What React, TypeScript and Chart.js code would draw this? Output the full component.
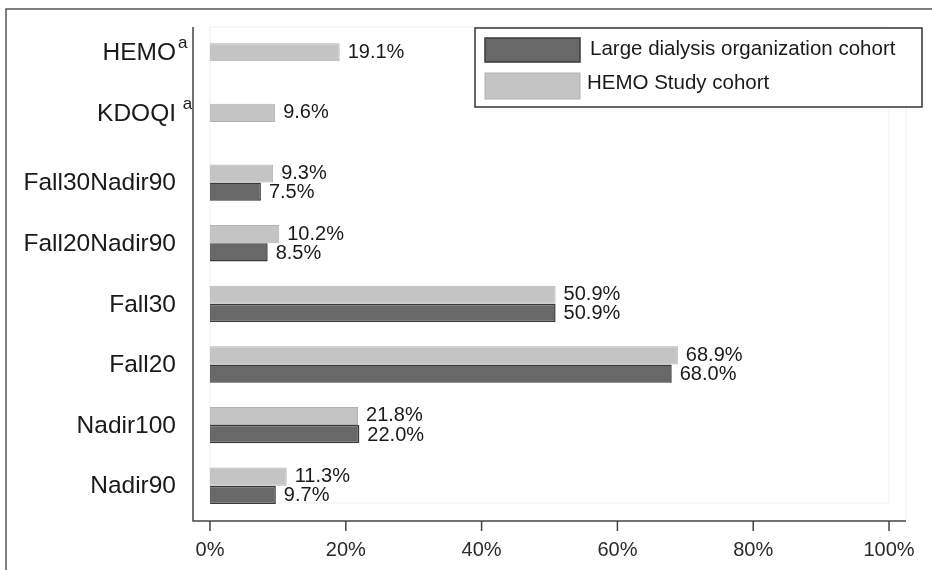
import { useEffect, useRef } from 'react';
import { Chart, registerables } from 'chart.js';

Chart.register(...registerables);

// rows of the chart, top to bottom
const categories = ['HEMO', 'KDOQI', 'Fall30Nadir90', 'Fall20Nadir90', 'Fall30', 'Fall20', 'Nadir100', 'Nadir90'];
const footnotes = ['a', ' a', '', '', '', '', '', ''];

// percentages
const hemoStudy = [19.1, 9.6, 9.3, 10.2, 50.9, 68.9, 21.8, 11.3];
const largeDialysis = [null, null, 7.5, 8.5, 50.9, 68.0, 22.0, 9.7];

const xTicks = [0, 20, 40, 60, 80, 100];

const hemoLabel = 'HEMO Study cohort';
const ldoLabel = 'Large dialysis organization cohort';

const FONT = '"Liberation Sans", Arial, Helvetica, sans-serif';
const LIGHT = '#c4c4c4';
const LIGHT_EDGE = '#b2b2b2';
const DARK = '#686868';
const DARK_EDGE = '#3a3a3a';
const TEXT = '#1a1a1a';

const decorPlugin = {
  id: 'decor',
  beforeDraw(chart: any) {
    const { ctx, chartArea: a, scales } = chart;
    const x = scales.x;
    ctx.save();
    // outer frame (left + top only visible)
    ctx.strokeStyle = '#555';
    ctx.lineWidth = 1.5;
    ctx.beginPath();
    ctx.moveTo(6, chart.height);
    ctx.lineTo(6, 9);
    ctx.lineTo(chart.width, 9);
    ctx.stroke();
    // faint plot region outline
    ctx.strokeStyle = '#efefef';
    ctx.lineWidth = 1;
    const x0 = x.getPixelForValue(0);
    const x1 = x.getPixelForValue(100);
    ctx.strokeRect(x0, a.top - 4, x1 - x0, a.bottom - 13 - (a.top - 4));
    ctx.beginPath();
    ctx.moveTo(a.right, a.top - 4);
    ctx.lineTo(a.right, a.bottom + 5);
    ctx.stroke();
    ctx.restore();
  },
  afterDatasetsDraw(chart: any) {
    const { ctx, chartArea: a, scales } = chart;
    const x = scales.x;
    const axisY = a.bottom + 5;
    ctx.save();

    // axes, ticks and tick labels
    ctx.strokeStyle = '#444';
    ctx.lineWidth = 1.5;
    ctx.beginPath();
    ctx.moveTo(a.left, a.top - 4);
    ctx.lineTo(a.left, axisY);
    ctx.lineTo(a.right, axisY);
    ctx.stroke();
    ctx.fillStyle = '#2a2a2a';
    ctx.font = `20px ${FONT}`;
    ctx.textAlign = 'center';
    ctx.textBaseline = 'middle';
    xTicks.forEach((t) => {
      const px = x.getPixelForValue(t);
      ctx.beginPath();
      ctx.moveTo(px, axisY);
      ctx.lineTo(px, axisY + 10);
      ctx.stroke();
      ctx.fillText(t + '%', px, axisY + 29);
    });

    // value labels
    ctx.fillStyle = TEXT;
    ctx.textAlign = 'left';
    ctx.font = `20px ${FONT}`;
    const series = [hemoStudy, largeDialysis];
    series.forEach((vals, i) => {
      const meta = chart.getDatasetMeta(i);
      vals.forEach((v, j) => {
        if (v == null) return;
        const bar = meta.data[j];
        ctx.fillText(v.toFixed(1) + '%', bar.x + 8, bar.y + (i === 1 ? 1 : 0));
      });
    });

    // category labels, centred on the bars that exist in the row
    categories.forEach((cat, j) => {
      const ys: number[] = [];
      series.forEach((vals, i) => {
        if (vals[j] != null) ys.push(chart.getDatasetMeta(i).data[j].y);
      });
      const y = ys.reduce((s, v) => s + v, 0) / ys.length;
      const right = a.left - 17;
      ctx.textAlign = 'right';
      ctx.font = `24.5px ${FONT}`;
      ctx.fillText(cat, right, y + 1);
      if (footnotes[j]) {
        ctx.textAlign = 'left';
        ctx.font = `17px ${FONT}`;
        ctx.fillText(footnotes[j], right + 2, y - 9);
      }
    });

    // legend box
    const lx = 475;
    const ly = 28;
    const lw = chart.width - 10 - lx;
    const lh = 79;
    ctx.fillStyle = '#fff';
    ctx.fillRect(lx, ly, lw, lh);
    ctx.strokeStyle = '#333';
    ctx.lineWidth = 1.5;
    ctx.strokeRect(lx, ly, lw, lh);

    ctx.fillStyle = DARK;
    ctx.fillRect(lx + 10, ly + 10, 95, 24);
    ctx.strokeStyle = DARK_EDGE;
    ctx.strokeRect(lx + 10, ly + 10, 95, 24);
    ctx.fillStyle = LIGHT;
    ctx.fillRect(lx + 10, ly + 45, 95, 26);
    ctx.strokeStyle = LIGHT_EDGE;
    ctx.lineWidth = 1;
    ctx.strokeRect(lx + 10, ly + 45, 95, 26);

    ctx.fillStyle = TEXT;
    ctx.font = `20.5px ${FONT}`;
    ctx.textAlign = 'left';
    ctx.fillText(ldoLabel, lx + 115, ly + 21);
    ctx.fillText(hemoLabel, lx + 112, ly + 55);

    ctx.restore();
  },
};

export default function App() {
  const canvasRef = useRef<HTMLCanvasElement | null>(null);
  const chartRef = useRef<Chart | null>(null);

  useEffect(() => {
    if (!canvasRef.current) return;
    if (chartRef.current) chartRef.current.destroy();

    chartRef.current = new Chart(canvasRef.current, {
      type: 'bar',
      data: {
        labels: categories,
        datasets: [
          {
            label: hemoLabel,
            data: hemoStudy,
            backgroundColor: LIGHT,
            borderColor: LIGHT_EDGE,
            borderWidth: 1,
            categoryPercentage: 0.6,
            barPercentage: 1,
          },
          {
            label: ldoLabel,
            data: largeDialysis,
            backgroundColor: DARK,
            borderColor: DARK_EDGE,
            borderWidth: 1.5,
            categoryPercentage: 0.6,
            barPercentage: 1,
          },
        ],
      },
      options: {
        indexAxis: 'y',
        animation: false,
        responsive: true,
        maintainAspectRatio: false,
        layout: { padding: { left: 193, right: 26, top: 31, bottom: 0 } },
        plugins: {
          legend: { display: false },
          tooltip: { enabled: false },
        },
        scales: {
          x: {
            type: 'linear',
            min: -2.5,
            max: 102.5,
            afterBuildTicks: (s: any) => {
              s.ticks = xTicks.map((v) => ({ value: v }));
            },
            afterFit: (s: any) => {
              s.height = 54;
            },
            grid: { display: false, drawTicks: false },
            border: { display: false },
            ticks: { display: false },
          },
          y: {
            type: 'category',
            display: false,
            offset: true,
          },
        },
      },
      plugins: [decorPlugin],
    } as any);

    return () => {
      if (chartRef.current) {
        chartRef.current.destroy();
        chartRef.current = null;
      }
    };
  }, []);

  return (
    <div style={{ position: 'fixed', left: 0, top: 0, width: 932, height: 570, background: '#fff' }}>
      <canvas ref={canvasRef} />
    </div>
  );
}
